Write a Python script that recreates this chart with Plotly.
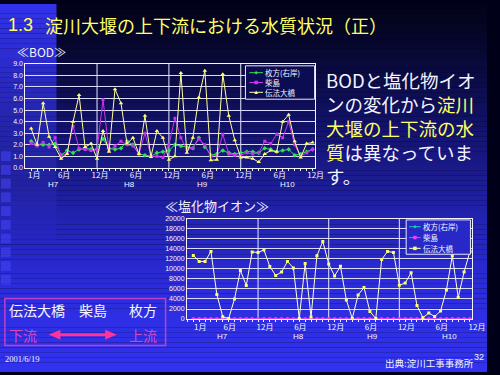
import plotly.graph_objects as go

W, H = 500, 375
def px(x): return x / W
def py(y): return 1 - y / H

# ---------------- data ----------------
month_idx = list(range(48))  # Jan H7 ... Dec H10
tick_pos = [0, 5, 11, 17, 23, 29, 35, 41, 47]
tick_text = ["1月", "6月", "12月", "6月", "12月", "6月", "12月", "6月", "12月"]
year_labels = ["H7", "H8", "H9", "H10"]
bod_year_pos = [3.7, 16.4, 28.6, 42.8]
cl_year_pos = [4.9, 17.8, 30.5, 43.5]
dec_idx = [11, 23, 35]
series_names = ["枚方(右岸)", "柴島", "伝法大橋"]

bod_hirakata = [2.3, 2.0, 2.0, 2.0, 2.1, 1.1, 1.5, 1.3, 1.6, 1.7, 1.6, 1.6,
                2.5, 1.7, 1.6, 1.7, 2.3, 2.0, 1.2, 1.1, 1.0, 1.3, 1.4, 1.5,
                2.0, 1.9, 1.8, 1.7, 2.6, 1.8, 1.1, 1.2, 1.5, 1.3, 1.2, 1.3,
                1.4, 1.4, 1.3, 1.7, 1.6, 1.4, 1.5, 1.6, 1.1, 1.2, 1.4, 1.6]
bod_kunijima = [2.1, 1.9, 2.2, 1.8, 2.6, 1.0, 1.3, 3.6, 1.7, 1.6, 1.5, 1.6,
                5.9, 1.5, 1.9, 2.3, 2.0, 1.9, 1.2, 3.0, 1.0, 1.0, 0.9, 2.0,
                4.3, 2.6, 1.6, 1.7, 2.5, 2.0, 1.0, 1.1, 2.9, 1.2, 1.1, 1.1,
                1.3, 1.2, 1.3, 2.3, 2.1, 2.9, 2.6, 4.0, 2.0, 1.0, 1.3, 1.6]
bod_denpo = [3.4, 2.0, 5.6, 2.7, 1.8, 0.8, 1.2, 4.0, 6.3, 1.8, 2.1, 0.8,
             3.2, 1.4, 6.8, 5.6, 2.1, 2.6, 1.2, 4.5, 0.95, 3.2, 2.6, 0.7,
             1.0, 8.2, 1.3, 2.6, 6.1, 8.4, 0.65, 0.7, 8.1, 4.5, 2.4, 0.9,
             0.9, 0.8, 0.5, 1.2, 1.5, 1.4, 4.0, 4.6, 2.3, 0.9, 2.1, 2.2]

cl_hirakata = [14, 15, 13, 16, 12, 10, 9, 11, 12, 13, 14, 15,
               15, 14, 13, 12, 11, 10, 9, 10, 11, 12, 14, 15,
               16, 15, 13, 12, 11, 10, 9, 10, 12, 13, 14, 15,
               16, 15, 14, 12, 11, 10, 10, 11, 12, 13, 14, 15]
cl_kunijima = [22, 24, 21, 25, 19, 15, 14, 16, 18, 20, 22, 24,
               25, 23, 21, 19, 17, 16, 14, 15, 17, 19, 22, 24,
               26, 24, 21, 19, 17, 15, 14, 16, 19, 21, 23, 25,
               26, 24, 22, 19, 17, 16, 15, 17, 19, 21, 23, 24]
cl_denpo = [12700, 11500, 11500, 13500, 4900, 450, 100, 4000, 9700, 6700, 13400, 13300,
            13800, 10500, 8700, 9400, 11500, 10200, 100, 11100, 400, 12650, 15500, 11000,
            8600, 10550, 3800, 100, 4800, 6300, 1500, 100, 11900, 13500, 13300, 6750,
            7200, 9250, 2700, 260, 1200, 500, 1600, 5800, 12650, 4300, 9400, 13500]

# ---------------- styles ----------------
JP = "Noto Sans CJK JP"
LAT = "Liberation Sans, Noto Sans CJK JP"
YEL = "#ffff66"
WHITE = "#f4f4ff"
GREEN = "#33dd55"
MAG = "#cc33ee"
TEAL = "#22ccaa"
PINK = "#ff33ff"

fig = go.Figure()

bod_style = [(bod_hirakata, GREEN, "diamond", 3.5, GREEN),
             (bod_kunijima, MAG, "square", 3, MAG),
             (bod_denpo, "#ffff99", "triangle-up", 4, YEL)]
for (vals, lc, sym, ms, mc), nm in zip(bod_style, series_names):
    fig.add_trace(go.Scatter(x=month_idx, y=vals, name=nm, mode="lines+markers",
                             line=dict(color=lc, width=1),
                             marker=dict(symbol=sym, size=ms, color=mc),
                             xaxis="x", yaxis="y", showlegend=False))

cl_style = [(cl_hirakata, TEAL, "diamond", 3, TEAL),
            (cl_kunijima, PINK, "square", 3, PINK),
            (cl_denpo, "#ffffcc", "square", 3, YEL)]
for (vals, lc, sym, ms, mc), nm in zip(cl_style, series_names):
    fig.add_trace(go.Scatter(x=month_idx, y=vals, name=nm, mode="lines+markers",
                             line=dict(color=lc, width=1),
                             marker=dict(symbol=sym, size=ms, color=mc),
                             xaxis="x2", yaxis="y2", showlegend=False))

shapes = []

# ---- background gradient ----
def lerp_stops(stops, y):
    for (y0, c0), (y1, c1) in zip(stops, stops[1:]):
        if y0 <= y <= y1:
            t = (y - y0) / (y1 - y0)
            return tuple(int(round(a + (b - a) * t)) for a, b in zip(c0, c1))
    return stops[-1][1]

bg_stops = [(0, (2, 2, 22)), (50, (8, 8, 52)), (110, (16, 16, 96)),
            (170, (26, 26, 140)), (230, (36, 36, 185)), (290, (44, 44, 220)),
            (375, (50, 50, 240))]
for y in range(0, H, 5):
    c = lerp_stops(bg_stops, y + 2.5)
    shapes.append(dict(type="rect", xref="paper", yref="paper", x0=0, x1=1,
                       y0=py(y + 5), y1=py(y), line=dict(width=0),
                       fillcolor="rgb(%d,%d,%d)" % c, layer="below"))
strip_stops = [(0, (50, 50, 235)), (60, (44, 44, 205)), (120, (36, 36, 172)),
               (180, (34, 34, 160)), (240, (38, 38, 195))]
for y in range(0, 240, 5):
    c = lerp_stops(strip_stops, y + 2.5)
    shapes.append(dict(type="rect", xref="paper", yref="paper", x0=0, x1=px(58),
                       y0=py(y + 5), y1=py(y), line=dict(width=0),
                       fillcolor="rgb(%d,%d,%d)" % c, layer="below"))
for k in range(10):
    y0 = 150 + 14 * k
    shapes.append(dict(type="rect", xref="paper", yref="paper", x0=px(1), x1=px(11),
                       y0=py(y0 + 10), y1=py(y0), line=dict(width=0),
                       fillcolor="rgba(70,70,250,0.55)", layer="below"))

# ---- December vertical lines ----
for xa, ya in (("x", "y"), ("x2", "y2")):
    for d in dec_idx:
        shapes.append(dict(type="line", xref=xa, yref=ya + " domain", x0=d, x1=d,
                           y0=0, y1=1, line=dict(color="#e8e8ff", width=1), layer="below"))

# ---- manual legends ----
def legend_box(x0, y0, x1, y1, fill):
    shapes.append(dict(type="rect", xref="paper", yref="paper", x0=px(x0), x1=px(x1),
                       y0=py(y1), y1=py(y0), line=dict(color="#e8e8ff", width=1),
                       fillcolor=fill, layer="above"))

def marker_shape(sym, cx, cy, s, color):
    if sym == "square":
        shapes.append(dict(type="rect", xref="paper", yref="paper",
                           x0=px(cx - s), x1=px(cx + s), y0=py(cy + s), y1=py(cy - s),
                           line=dict(width=0), fillcolor=color, layer="above"))
    elif sym == "diamond":
        p = "M %f %f L %f %f L %f %f L %f %f Z" % (px(cx - s), py(cy), px(cx), py(cy - s),
                                                   px(cx + s), py(cy), px(cx), py(cy + s))
        shapes.append(dict(type="path", xref="paper", yref="paper", path=p,
                           line=dict(width=0), fillcolor=color, layer="above"))
    else:
        p = "M %f %f L %f %f L %f %f Z" % (px(cx - s), py(cy + s), px(cx), py(cy - s),
                                           px(cx + s), py(cy + s))
        shapes.append(dict(type="path", xref="paper", yref="paper", path=p,
                           line=dict(width=0), fillcolor=color, layer="above"))

annotations = []

def legend_entries(styles, lx0, lx1, tx, ys, fsize):
    for (vals, lc, sym, ms, mc), nm, yy in zip(styles, series_names, ys):
        shapes.append(dict(type="line", xref="paper", yref="paper", x0=px(lx0), x1=px(lx1),
                           y0=py(yy), y1=py(yy), line=dict(color=lc, width=1), layer="above"))
        marker_shape(sym, (lx0 + lx1) / 2, yy, 1.8, mc)
        annotations.append(dict(text=nm, x=px(tx), y=py(yy), xref="paper", yref="paper",
                                xanchor="left", yanchor="middle", showarrow=False,
                                borderpad=0,
                                font=dict(family=JP, size=fsize, color=WHITE)))

legend_box(252, 63, 323, 97, "#0c0c52")
legend_entries(bod_style, 256, 270, 271, [70, 80, 90], 7.5)
legend_box(417, 220, 483, 255, "#2828c8")
legend_entries(cl_style, 420, 432, 433, [227, 238, 249], 7.5)

# ---- bottom-left box and arrow ----
shapes.append(dict(type="rect", xref="paper", yref="paper", x0=px(5), x1=px(170),
                   y0=py(348), y1=py(300), line=dict(color="#c040c8", width=1.5),
                   fillcolor="rgba(0,0,0,0)", layer="above"))
ARW = "#ff3399"
shapes.append(dict(type="line", xref="paper", yref="paper", x0=px(58), x1=px(112),
                   y0=py(337), y1=py(337), line=dict(color=ARW, width=3), layer="above"))
for tip, base in ((50, 62), (120, 108)):
    p = "M %f %f L %f %f L %f %f Z" % (px(tip), py(337), px(base), py(332),
                                       px(base), py(342))
    shapes.append(dict(type="path", xref="paper", yref="paper", path=p,
                       line=dict(width=0), fillcolor=ARW, layer="above"))

def txt(t, x, y, size, color=WHITE, family=JP, xanchor="left"):
    annotations.append(dict(text=t, x=px(x), y=py(y), xref="paper", yref="paper",
                            xanchor=xanchor, yanchor="middle", showarrow=False,
                            borderpad=0, align="left",
                            font=dict(family=family, size=size, color=color)))

txt("1.3", 7, 21, 18, YEL, LAT)
txt("淀川大堰の上下流における水質状況（正）", 45, 21, 18, YEL)
txt("≪BOD≫", 16, 48, 12, WHITE)
txt("≪塩化物イオン≫", 168, 205, 13, WHITE)

def ys(t):
    return '<span style="color:%s">%s</span>' % (YEL, t)
right_lines = ["BODと塩化物イオ",
               "ンの変化から" + ys("淀川"),
               ys("大堰の上下流の水"),
               ys("質") + "は異なっていま",
               "す。"]
txt("<br>".join(right_lines), 334, 126, 18.5, WHITE)

txt("伝法大橋", 8, 312, 14)
txt("柴島", 80, 312, 14)
txt("枚方", 131, 312, 14)
txt("下流", 8, 337, 14, "#d845c0")
txt("上流", 131, 337, 14, "#d845c0")
txt("2001/6/19", 4, 362, 8.5, WHITE, "Liberation Serif")
txt("出典:淀川工事事務所", 394, 366, 9.5)
txt("32", 486, 360, 9, WHITE, LAT)

for lab, pos in zip(year_labels, bod_year_pos):
    annotations.append(dict(text=lab, x=pos, y=py(183.5), xref="x", yref="paper",
                            xanchor="center", yanchor="middle", showarrow=False,
                            borderpad=0,
                            font=dict(family=LAT, size=8, color=WHITE)))
for lab, pos in zip(year_labels, cl_year_pos):
    annotations.append(dict(text=lab, x=pos, y=py(339), xref="x2", yref="paper",
                            xanchor="center", yanchor="middle", showarrow=False,
                            borderpad=0,
                            font=dict(family=LAT, size=8, color=WHITE)))

GRID = "#dcdcff"
def xaxis_cfg(dom, rng, shift):
    return dict(domain=dom, range=rng, showgrid=False, zeroline=False,
                tickmode="array", tickvals=tick_pos, ticktext=tick_text,
                ticks="", ticklabelshift=shift,
                tickfont=dict(family=JP, size=8, color=WHITE),
                minor=dict(ticks="outside", ticklen=2, tick0=0, dtick=1,
                           tickcolor=WHITE, showgrid=False),
                showline=True, linecolor=WHITE, linewidth=1, mirror=True)

def yaxis_cfg(dom, rng, dt, fmt, anchor):
    return dict(domain=dom, range=rng, dtick=dt, tickformat=fmt, anchor=anchor,
                showgrid=True, gridcolor=GRID, gridwidth=1, zeroline=False,
                tickfont=dict(family=LAT, size=7, color=WHITE),
                showline=True, linecolor=WHITE, linewidth=1, mirror=True, ticks="")

fig.update_layout(
    width=W, height=H, margin=dict(l=0, r=0, t=0, b=0),
    paper_bgcolor="#000018", plot_bgcolor="rgba(0,0,0,0)",
    showlegend=False,
    xaxis=dict(**xaxis_cfg([px(26), px(323)], [-0.976, 47.33], 3), anchor="y"),
    yaxis=yaxis_cfg([py(167), py(61)], [0, 9], 1, ".1f", "x"),
    xaxis2=dict(**xaxis_cfg([px(192), px(485)], [-1.07, 47.41], 7), anchor="y2"),
    yaxis2=yaxis_cfg([py(321), py(219)], [0, 20000], 2000, "d", "x2"),
    shapes=shapes, annotations=annotations,
)

fig.write_html("out.html")
